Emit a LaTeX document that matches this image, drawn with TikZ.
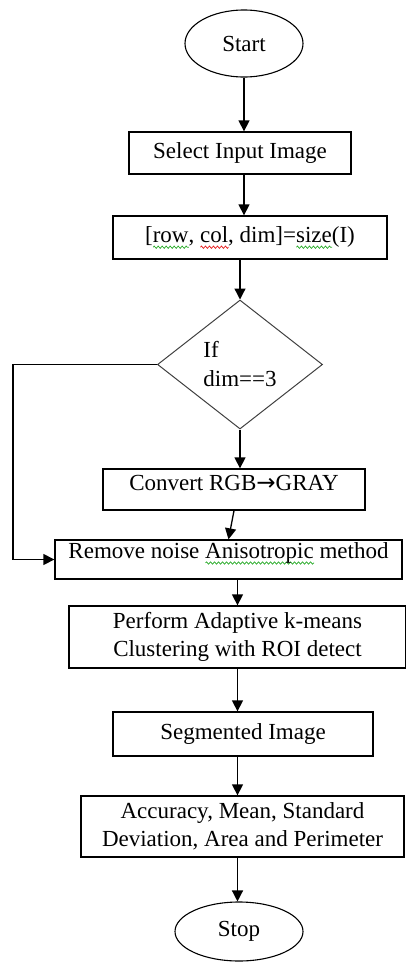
\documentclass[tikz,border=0pt]{standalone}
\usepackage{fontspec}
\setmainfont{Liberation Serif}
\newfontfamily\symbfont{DejaVu Sans}
\usepackage{xcolor}
\usepackage{tikz}
\usetikzlibrary{arrows.meta,shapes.geometric,decorations.pathmorphing}
\definecolor{spellgreen}{RGB}{40,170,40}
\definecolor{spellred}{RGB}{230,30,30}
\newsavebox\spellbox
\newcommand\spellmark[2]{\sbox\spellbox{#2}\rlap{\tikz[baseline=0pt,x=1pt,y=1pt]\draw[#1,line width=0.7pt,decorate,decoration={zigzag,segment length=4pt,amplitude=1.2pt}] (0,-5) -- (\the\wd\spellbox,-5);}\usebox\spellbox}
\tikzset{
    %Define standard arrow tip
    >={Triangle[length=11pt,width=11pt]},
    %Define style for boxes
    procbox/.style={
           rectangle,
           draw=black, line width=1.3pt,
           inner sep=0pt,
           font=\fontsize{23}{28}\selectfont,
           align=center},
    topbox/.style={
           procbox,
           text height=#1},
    terminal/.style={
           ellipse,
           draw=black, line width=1.1pt,
           inner sep=0pt,
           font=\fontsize{23}{28}\selectfont},
    decision/.style={
           diamond,
           draw=black!75, line width=1pt,
           inner sep=0pt,
           font=\fontsize{23}{29}\selectfont,
           align=left},
    % Define arrow style
    pil/.style={
           ->,
           line width=1.3pt}
}
\begin{document}
\begin{tikzpicture}[x=1pt,y=-1pt]
\useasboundingbox (0,0) rectangle (406,962);
 %nodes
\node[terminal, minimum width=118pt, minimum height=67pt] (start) at (244,43.5) {Start};
\node[procbox, minimum width=222pt, minimum height=42pt] (select) at (240,153) {Select Input Image};
\node[procbox, minimum width=274pt, minimum height=43pt] (size) at (250,237.5)
    {[\spellmark{spellgreen}{row}, \spellmark{spellred}{col}, dim]=\spellmark{spellgreen}{size}(I)};
\node[decision, minimum width=165pt, minimum height=129pt, xshift=-4pt] (dim) at (244,364.5) {If\\dim==3};
\node[topbox=21pt, text depth=20pt, minimum width=262pt] (gray) at (234,489.5) {Convert RGB{\symbfont →}GRAY};
\node[topbox=18pt, text depth=21pt, minimum width=347pt] (noise) at (228.5,559.5)
    {Remove noise \spellmark{spellgreen}{Anisotropic} method};
\node[procbox, minimum width=337pt, minimum height=62pt] (kmeans) at (237.5,637)
    {Perform Adaptive k-means\\Clustering with ROI detect};
\node[procbox, minimum width=260pt, minimum height=44pt] (seg) at (243,734) {Segmented Image};
\node[procbox, minimum width=323pt, minimum height=61pt] (measure) at (242.5,826.5)
    {Accuracy, Mean, Standard\\Deviation, Area and Perimeter};
\node[terminal, minimum width=128pt, minimum height=59pt] (stop) at (239,931.5) {Stop};
\coordinate (back) at (13,364.5);
 %arrows
\draw[pil] (start.south) -- (start.south |- select.north);
\draw[pil] (start.south |- select.south) -- (start.south |- size.north);
\draw[pil] (dim.north |- size.south) -- (dim.north);
\draw[pil] (dim.south) -- (dim.south |- gray.north);
\draw[pil] (gray.south) -- (noise.north);
\draw[pil] (dim.west) -- (back) |- (noise.west);
\draw[pil] (kmeans.north |- noise.south) -- (kmeans.north);
\draw[pil] (kmeans.south) -- (kmeans.south |- seg.north);
\draw[pil] (kmeans.south |- seg.south) -- (kmeans.south |- measure.north);
\draw[pil] (kmeans.south |- measure.south) -- (kmeans.south |- stop.north);
\end{tikzpicture}
\end{document}
